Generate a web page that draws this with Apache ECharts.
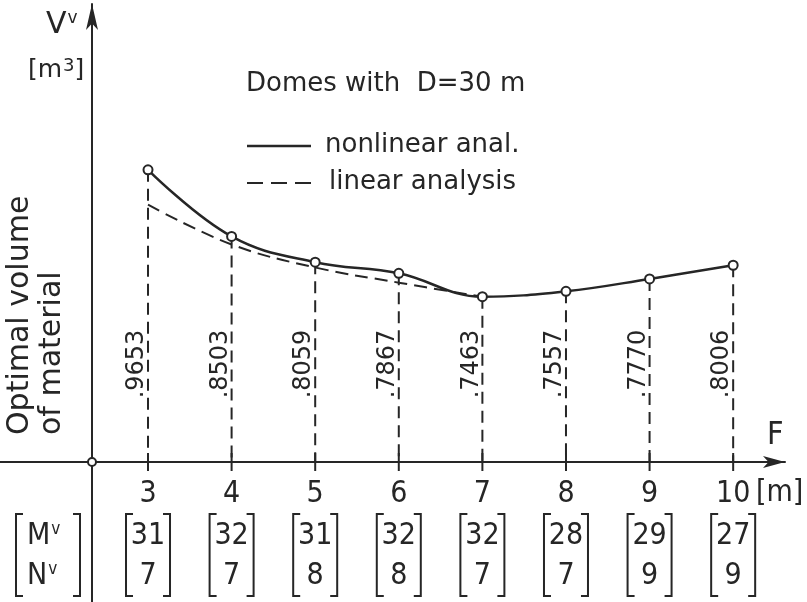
<!DOCTYPE html>
<html><head><meta charset="utf-8">
<script src="https://cdn.jsdelivr.net/npm/echarts@6/dist/echarts.min.js"></script>
<style>html,body{margin:0;padding:0;background:#fff}#c{width:807px;height:602px}</style>
</head><body><div id="c"></div>
<script>
// ---- data ----
const F = [3, 4, 5, 6, 7, 8, 9, 10];
const nonlinear = [0.9653, 0.8503, 0.8059, 0.7867, 0.7463, 0.7557, 0.7770, 0.8006];
const nonlinearLabels = ['.9653', '.8503', '.8059', '.7867', '.7463', '.7557', '.7770', '.8006'];
const linearF = [3, 4, 5, 6, 7];
const linear = [0.905, 0.8365, 0.7968, 0.7706, 0.7463];
const M = [31, 32, 31, 32, 32, 28, 29, 27];
const N = [7, 7, 8, 8, 7, 7, 9, 9];
const xTicks = [3, 4, 5, 6, 7, 8, 9, 10];

// ---- styling ----
const INK = '#262626';
const TXT = '"DejaVu Sans", "Noto Sans", sans-serif';
const NUM = '"Liberation Sans Narrow", "DejaVu Sans Condensed", "DejaVu Sans", sans-serif';
const XMIN = 2.33, XMAX = 10.62, YMIN = 0.4612, YMAX = 1.2513;

const chart = echarts.init(document.getElementById('c'), null, { renderer: 'canvas' });

const option = {
  backgroundColor: '#fff',
  animation: false,
  grid: { left: 92, right: 22, top: 4, bottom: 140 },
  xAxis: {
    type: 'value', min: XMIN, max: XMAX,
    axisLine: { show: true, onZero: false, symbol: ['none', 'arrow'], symbolSize: [9, 22], lineStyle: { color: INK, width: 2 } },
    axisTick: { show: false },
    splitLine: { show: false },
    axisLabel: { show: true, customValues: xTicks, color: INK, fontFamily: NUM, fontSize: 30, margin: 17 }
  },
  yAxis: {
    type: 'value', min: YMIN, max: YMAX,
    axisLine: { show: true, onZero: false, symbol: ['none', 'arrow'], symbolSize: [9, 26], lineStyle: { color: INK, width: 2 } },
    axisTick: { show: false },
    splitLine: { show: false },
    axisLabel: { show: false }
  },
  series: [
    {
      name: 'drop', type: 'custom', z: 1, clip: false,
      data: F.map((f, i) => [f, nonlinear[i]]),
      renderItem: (params, api) => {
        const x = api.value(0), v = api.value(1);
        const p = api.coord([x, v]);
        const b = api.coord([x, YMIN]);
        return {
          type: 'group', children: [
            { type: 'line', shape: { x1: p[0], y1: p[1], x2: b[0], y2: b[1] }, style: { stroke: INK, lineWidth: 2, lineDash: [12, 7] } },
            { type: 'line', shape: { x1: b[0], y1: b[1] - 9, x2: b[0], y2: b[1] + 9 }, style: { stroke: INK, lineWidth: 2 } },
            { type: 'text', x: b[0] - 11, y: b[1] - 98, rotation: Math.PI / 2,
              style: { text: nonlinearLabels[params.dataIndex], font: '24px ' + TXT, fill: INK, align: 'center', verticalAlign: 'middle', textAlign: 'center', textVerticalAlign: 'middle' } }
          ]
        };
      }
    },
    {
      name: 'matrix', type: 'custom', z: 1, clip: false,
      data: F.map((f, i) => [f, M[i], N[i]]),
      renderItem: (params, api) => {
        const x = api.value(0);
        const b = api.coord([x, YMIN]);
        const cx = b[0], y0 = b[1];
        const top = y0 + 52, bot = y0 + 134, hw = 22, s = 7;
        const st = { stroke: INK, lineWidth: 2, fill: null };
        const tf = '30px ' + NUM;
        return {
          type: 'group', children: [
            { type: 'polyline', shape: { points: [[cx - hw + s, top], [cx - hw, top], [cx - hw, bot], [cx - hw + s, bot]] }, style: st },
            { type: 'polyline', shape: { points: [[cx + hw - s, top], [cx + hw, top], [cx + hw, bot], [cx + hw - s, bot]] }, style: st },
            { type: 'text', x: cx, y: y0 + 74, style: { text: String(api.value(1)), font: tf, fill: INK, align: 'center', verticalAlign: 'middle', textAlign: 'center', textVerticalAlign: 'middle' } },
            { type: 'text', x: cx, y: y0 + 114, style: { text: String(api.value(2)), font: tf, fill: INK, align: 'center', verticalAlign: 'middle', textAlign: 'center', textVerticalAlign: 'middle' } }
          ]
        };
      }
    },
    {
      name: 'linear analysis', type: 'line', z: 2, smooth: 0.4,
      data: linearF.map((f, i) => [f, linear[i]]),
      symbol: 'none',
      lineStyle: { color: INK, width: 2, type: [13, 7] }
    },
    {
      name: 'nonlinear anal.', type: 'line', z: 3, smooth: 0.4,
      data: F.map((f, i) => [f, nonlinear[i]]),
      symbol: 'circle', symbolSize: 9,
      itemStyle: { color: '#fff', borderColor: INK, borderWidth: 2 },
      lineStyle: { color: INK, width: 2.5 }
    }
  ]
};
chart.setOption(option);

// ---- annotations placed relative to the axes ----
const o = chart.convertToPixel({ gridIndex: 0 }, [XMIN, YMIN]);
const ox = o[0], oy = o[1];
const tstyle = (text, font, extra) => Object.assign({ text, font, fill: INK, align: 'left', verticalAlign: 'middle', textAlign: 'left', textVerticalAlign: 'middle' }, extra || {});
const sup = (size, fam, pad) => ({ s: { fontSize: size, fontFamily: fam, padding: [0, 0, pad, 1] } });
chart.setOption({
  graphic: [
    // axis extensions
    { type: 'line', z: 0, shape: { x1: 0, y1: oy, x2: ox, y2: oy }, style: { stroke: INK, lineWidth: 2 } },
    { type: 'line', z: 0, shape: { x1: ox, y1: oy, x2: ox, y2: 602 }, style: { stroke: INK, lineWidth: 2 } },
    { type: 'circle', z: 10, shape: { cx: ox, cy: oy, r: 4 }, style: { fill: '#fff', stroke: INK, lineWidth: 2 } },
    // axis names
    { type: 'text', x: 46, y: 25, style: tstyle('V{s|v}', '30px ' + TXT, { rich: sup(17, TXT, 12) }) },
    { type: 'text', x: 28, y: 70, style: tstyle('[m{s|3}]', '25px ' + TXT, { rich: sup(18, TXT, 8) }) },
    { type: 'text', x: 20, y: 435, rotation: Math.PI / 2, style: tstyle('Optimal volume', '30px ' + TXT) },
    { type: 'text', x: 52, y: 435, rotation: Math.PI / 2, style: tstyle('of material', '30px ' + TXT) },
    { type: 'text', x: 767, y: oy - 26, style: tstyle('F', '32px ' + NUM) },
    { type: 'text', x: 756, y: oy + 31, style: tstyle('[m]', '30px ' + NUM) },
    // title & legend
    { type: 'text', x: 246, y: 84, style: tstyle('Domes with  D=30 m', '26px ' + TXT) },
    { type: 'line', shape: { x1: 247, y1: 146, x2: 311, y2: 146 }, style: { stroke: INK, lineWidth: 2.5 } },
    { type: 'text', x: 325, y: 145, style: tstyle('nonlinear anal.', '26px ' + TXT) },
    { type: 'line', shape: { x1: 247, y1: 183, x2: 311, y2: 183 }, style: { stroke: INK, lineWidth: 2, lineDash: [16, 8] } },
    { type: 'text', x: 329, y: 182, style: tstyle('linear analysis', '26px ' + TXT) },
    // left matrix header
    { type: 'polyline', shape: { points: [[23, oy + 52], [16, oy + 52], [16, oy + 134], [23, oy + 134]] }, style: { stroke: INK, lineWidth: 2, fill: null } },
    { type: 'polyline', shape: { points: [[73, oy + 52], [80, oy + 52], [80, oy + 134], [73, oy + 134]] }, style: { stroke: INK, lineWidth: 2, fill: null } },
    { type: 'text', x: 27, y: oy + 74, style: tstyle('M{s|v}', '30px ' + NUM, { rich: sup(17, NUM, 12) }) },
    { type: 'text', x: 27, y: oy + 114, style: tstyle('N{s|v}', '30px ' + NUM, { rich: sup(17, NUM, 12) }) }
  ]
});
</script>
</body></html>
